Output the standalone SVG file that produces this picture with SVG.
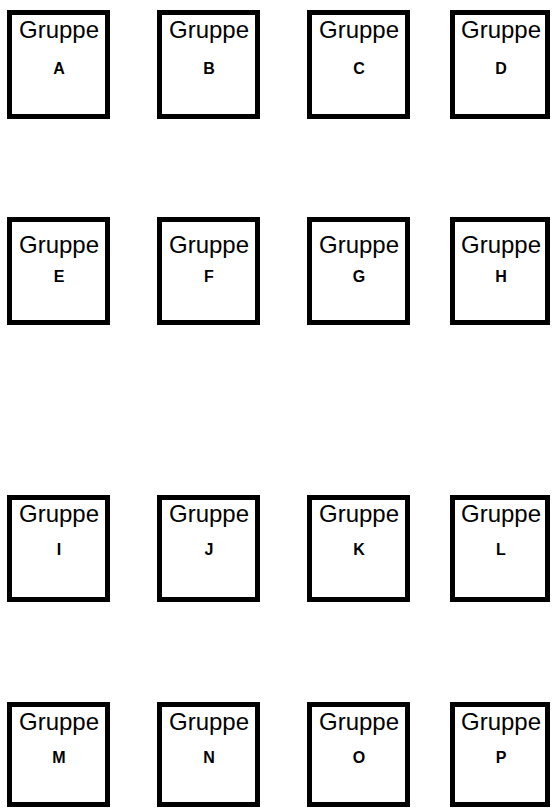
<svg xmlns="http://www.w3.org/2000/svg" width="552" height="808" viewBox="0 0 552 808">
<style>
.b{fill:#fff;stroke:#000;stroke-width:5}
.t{font-family:"Liberation Sans",Arial,sans-serif;font-size:24px;fill:#000;text-anchor:middle}
.l{font-family:"Liberation Sans",Arial,sans-serif;font-size:16px;font-weight:bold;fill:#000;text-anchor:middle}
</style>
<rect width="552" height="808" fill="#fff"/>
<g id="A"><rect class="b" x="9.5" y="12.5" width="98" height="104"/><text class="t" x="59" y="38">Gruppe</text><text class="l" x="59" y="74">A</text></g>
<g id="B"><rect class="b" x="159.5" y="12.5" width="98" height="104"/><text class="t" x="209" y="38">Gruppe</text><text class="l" x="209" y="74">B</text></g>
<g id="C"><rect class="b" x="309.5" y="12.5" width="98" height="104"/><text class="t" x="359" y="38">Gruppe</text><text class="l" x="359" y="74">C</text></g>
<g id="D"><rect class="b" x="452.5" y="12.5" width="95" height="104"/><text class="t" x="501" y="38">Gruppe</text><text class="l" x="501" y="74">D</text></g>

<g id="E"><rect class="b" x="9.5" y="219.5" width="98" height="103"/><text class="t" x="59" y="253">Gruppe</text><text class="l" x="59" y="282">E</text></g>
<g id="F"><rect class="b" x="159.5" y="219.5" width="98" height="103"/><text class="t" x="209" y="253">Gruppe</text><text class="l" x="209" y="282">F</text></g>
<g id="G"><rect class="b" x="309.5" y="219.5" width="98" height="103"/><text class="t" x="359" y="253">Gruppe</text><text class="l" x="359" y="282">G</text></g>
<g id="H"><rect class="b" x="452.5" y="219.5" width="95" height="103"/><text class="t" x="501" y="253">Gruppe</text><text class="l" x="501" y="282">H</text></g>

<g id="I"><rect class="b" x="9.5" y="497.5" width="98" height="102"/><text class="t" x="59" y="522">Gruppe</text><text class="l" x="59" y="555">I</text></g>
<g id="J"><rect class="b" x="159.5" y="497.5" width="98" height="102"/><text class="t" x="209" y="522">Gruppe</text><text class="l" x="209" y="555">J</text></g>
<g id="K"><rect class="b" x="309.5" y="497.5" width="98" height="102"/><text class="t" x="359" y="522">Gruppe</text><text class="l" x="359" y="555">K</text></g>
<g id="L"><rect class="b" x="452.5" y="497.5" width="95" height="102"/><text class="t" x="501" y="522">Gruppe</text><text class="l" x="501" y="555">L</text></g>

<g id="M"><rect class="b" x="9.5" y="704.5" width="98" height="100"/><text class="t" x="59" y="730">Gruppe</text><text class="l" x="59" y="763">M</text></g>
<g id="N"><rect class="b" x="159.5" y="704.5" width="98" height="100"/><text class="t" x="209" y="730">Gruppe</text><text class="l" x="209" y="763">N</text></g>
<g id="O"><rect class="b" x="309.5" y="704.5" width="98" height="100"/><text class="t" x="359" y="730">Gruppe</text><text class="l" x="359" y="763">O</text></g>
<g id="P"><rect class="b" x="452.5" y="704.5" width="95" height="100"/><text class="t" x="501" y="730">Gruppe</text><text class="l" x="501" y="763">P</text></g>
</svg>
